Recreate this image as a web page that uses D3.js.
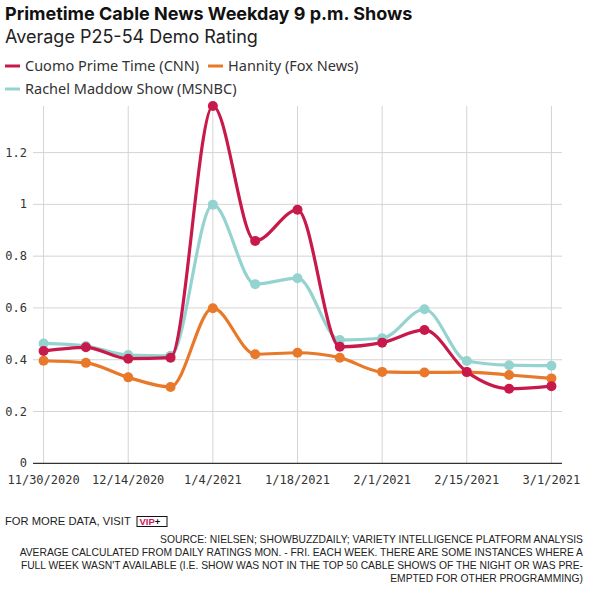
<!DOCTYPE html>
<html>
<head>
<meta charset="utf-8">
<script src="https://cdn.jsdelivr.net/npm/d3@7"></script>
<style>
  body { margin: 0; background: #fff; }
  svg { display: block; }
</style>
</head>
<body>
<div id="plot"></div>
<script>
// weekly averages, Mon-Fri (week of 12/28 missing from the chart)
const weeks = ["11/30/2020", "12/7/2020", "12/14/2020", "12/21/2020", "1/4/2021", "1/11/2021",
  "1/18/2021", "1/25/2021", "2/1/2021", "2/8/2021", "2/15/2021", "2/22/2021", "3/1/2021"];
const tickLabels = ["11/30/2020", "12/14/2020", "1/4/2021", "1/18/2021", "2/1/2021", "2/15/2021", "3/1/2021"];
const yTicks = [0, 0.2, 0.4, 0.6, 0.8, 1, 1.2];

const cnn = [0.434, 0.448, 0.404, 0.408, 1.38, 0.859, 0.979, 0.450, 0.466, 0.515, 0.353, 0.288, 0.298];
const fox = [0.396, 0.388, 0.332, 0.295, 0.599, 0.421, 0.427, 0.408, 0.353, 0.351, 0.352, 0.341, 0.328];
const msnbc = [0.463, 0.453, 0.418, 0.415, 0.999, 0.692, 0.715, 0.476, 0.483, 0.595, 0.395, 0.379, 0.377];

const seriesNames = ["Cuomo Prime Time (CNN)", "Hannity (Fox News)", "Rachel Maddow Show (MSNBC)"];
const colors = ["#c8194b", "#e8782a", "#94d3cf"];

const W = 598, H = 596;
const svg = d3.select("#plot").append("svg")
    .attr("width", W)
    .attr("height", H);

// title + subtitle
svg.append("text")
    .attr("x", 5).attr("y", 20)
    .attr("font-family", "Inter, 'Noto Sans', sans-serif")
    .attr("font-size", "18px").attr("font-weight", "bold")
    .attr("fill", "#111")
    .text("Primetime Cable News Weekday 9 p.m. Shows");
svg.append("text")
    .attr("x", 5).attr("y", 43)
    .attr("font-family", "Inter, 'Noto Sans', sans-serif")
    .attr("font-size", "18px")
    .attr("fill", "#222")
    .text("Average P25-54 Demo Rating");

// legend
const legendPos = [[5, 71], [208, 71], [5, 94]];
seriesNames.forEach((name, i) => {
    const g = svg.append("g").attr("transform", `translate(${legendPos[i][0]},${legendPos[i][1]})`);
    g.append("line")
        .attr("x1", 0).attr("x2", 15).attr("y1", -5).attr("y2", -5)
        .attr("stroke", colors[i]).attr("stroke-width", 3);
    g.append("text")
        .attr("x", 20).attr("y", 0)
        .attr("font-family", "'Noto Sans', sans-serif")
        .attr("font-size", "14.5px")
        .attr("fill", "#333")
        .text(name);
});

// scales
const x = d3.scalePoint()
    .domain(weeks)
    .range([33, 562])
    .padding(0.25);

const y = d3.scaleLinear()
    .domain([0, d3.max(cnn)])
    .range([463.3, 106]);

// grid
svg.append("g")
    .selectAll("line.h")
    .data(yTicks.filter(d => d > 0))
    .join("line")
    .attr("x1", 33).attr("x2", 562)
    .attr("y1", d => y(d)).attr("y2", d => y(d))
    .attr("stroke", "#d4d4d4").attr("stroke-width", 1);

svg.append("g")
    .selectAll("line.v")
    .data(tickLabels)
    .join("line")
    .attr("x1", d => x(d)).attr("x2", d => x(d))
    .attr("y1", y.range()[1]).attr("y2", y(0))
    .attr("stroke", "#d4d4d4").attr("stroke-width", 1);

// baseline
svg.append("line")
    .attr("x1", 33).attr("x2", 562)
    .attr("y1", y(0)).attr("y2", y(0))
    .attr("stroke", "#333").attr("stroke-width", 1.2);

// y labels
svg.append("g")
    .selectAll("text")
    .data(yTicks)
    .join("text")
    .attr("x", 27)
    .attr("y", d => y(d) + 4)
    .attr("text-anchor", "end")
    .attr("font-family", "'DejaVu Sans Mono', monospace")
    .attr("font-size", "12px")
    .attr("fill", "#333")
    .text(d => d);

// x labels
svg.append("g")
    .selectAll("text")
    .data(tickLabels)
    .join("text")
    .attr("x", d => x(d))
    .attr("y", 484)
    .attr("text-anchor", "middle")
    .attr("font-family", "'DejaVu Sans Mono', monospace")
    .attr("font-size", "12px")
    .attr("fill", "#333")
    .text(d => d);

// lines + dots; MSNBC under, CNN on top
const line = d3.line()
    .x((d, i) => x(weeks[i]))
    .y(d => y(d))
    .curve(d3.curveMonotoneX);

const drawOrder = [[msnbc, 2], [fox, 1], [cnn, 0]];
drawOrder.forEach(([vals, ci]) => {
    svg.append("path")
        .datum(vals)
        .attr("d", line)
        .attr("fill", "none")
        .attr("stroke", colors[ci])
        .attr("stroke-width", 3.2)
        .attr("stroke-linejoin", "round");
    svg.append("g")
        .selectAll("circle")
        .data(vals)
        .join("circle")
        .attr("cx", (d, i) => x(weeks[i]))
        .attr("cy", d => y(d))
        .attr("r", 5)
        .attr("fill", colors[ci]);
});

// footer
const footFont = "'Liberation Sans', Arial, sans-serif";
svg.append("text")
    .attr("x", 5).attr("y", 525)
    .attr("font-family", footFont)
    .attr("font-size", "11.2px")
    .attr("fill", "#222")
    .text("FOR MORE DATA, VISIT");
svg.append("rect")
    .attr("x", 137).attr("y", 516.5).attr("width", 30).attr("height", 10)
    .attr("fill", "none").attr("stroke", "#111").attr("stroke-width", 1);
const vip = svg.append("text")
    .attr("x", 139.5).attr("y", 525)
    .attr("font-family", footFont)
    .attr("font-size", "9.5px")
    .attr("font-weight", "bold");
vip.append("tspan").attr("fill", "#d4145a").text("VIP");
vip.append("tspan").attr("fill", "#111").text("+");

const notes = [
    "SOURCE: NIELSEN; SHOWBUZZDAILY; VARIETY INTELLIGENCE PLATFORM ANALYSIS",
    "AVERAGE CALCULATED FROM DAILY RATINGS MON. - FRI. EACH WEEK. THERE ARE SOME INSTANCES WHERE A",
    "FULL WEEK WASN'T AVAILABLE (I.E. SHOW WAS NOT IN THE TOP 50 CABLE SHOWS OF THE NIGHT OR WAS PRE-",
    "EMPTED FOR OTHER PROGRAMMING)"
];
svg.append("g")
    .selectAll("text")
    .data(notes)
    .join("text")
    .attr("x", 583)
    .attr("y", (d, i) => 543 + i * 13)
    .attr("text-anchor", "end")
    .attr("font-family", footFont)
    .attr("font-size", "10.3px")
    .attr("fill", "#222")
    .text(d => d);
</script>
</body>
</html>
